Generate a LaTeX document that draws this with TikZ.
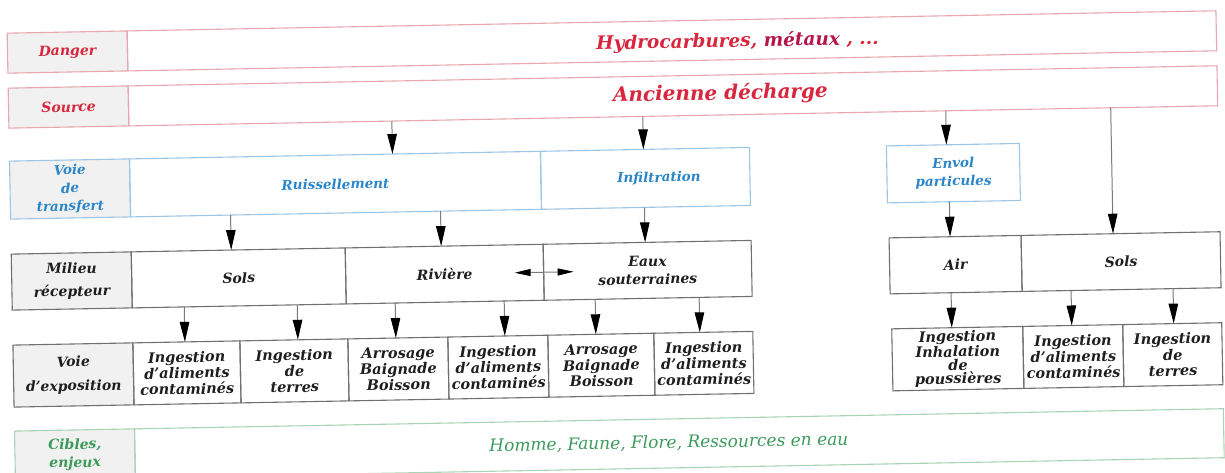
\documentclass[tikz,border=0pt]{standalone}
\usepackage{fontspec}
\setmainfont{DejaVu Serif}
\usetikzlibrary{arrows.meta}
\definecolor{rtxt}{HTML}{D7263D}
\definecolor{rdark}{HTML}{B3164A}
\definecolor{rline}{HTML}{E7A6B1}
\definecolor{btxt}{HTML}{2B86C9}
\definecolor{bline}{HTML}{9DC6E6}
\definecolor{gtxt}{HTML}{3C9A5B}
\definecolor{gline}{HTML}{A9D3B5}
\definecolor{ktxt}{HTML}{1E1E1E}
\definecolor{kline}{HTML}{707070}
\definecolor{labfill}{HTML}{F1F1F1}
\definecolor{shaft}{HTML}{7A7A7A}
\newcommand\fsz[2]{\fontsize{#1}{#2}\selectfont\itshape\bfseries}
\newcommand\cellnode[7]{%
  \pgfmathsetmacro\mycw{#5-#3}%
  \pgfmathsetmacro\mych{#6-#4}%
  \pgfmathsetmacro\mycx{(#3+#5)/2}%
  \pgfmathsetmacro\mycy{(#4+#6)/2}%
  \node[#1,minimum width=\mycw pt,minimum height=\mych pt] (#2) at (\mycx,\mycy) {#7};}
\begin{document}
\begin{tikzpicture}[x=1pt,y=-1pt,
  base/.style={inner sep=0pt,outer sep=0pt,align=center,line width=1.1pt},
  redc/.style={base,draw=rline,text=rtxt},
  bluec/.style={base,draw=bline,text=btxt},
  blkc/.style={base,draw=kline,text=ktxt},
  grnc/.style={base,draw=gline,text=gtxt},
  labc/.style={fill=labfill},
  txt/.style={inner sep=0pt,outer sep=0pt,align=center},
  arr/.style={draw=shaft,line width=1pt,-{Triangle[width=9.5pt,length=20pt,color=black]}},
  dbl/.style={draw=shaft,line width=1pt,{Triangle[width=7pt,length=16pt,color=black]}-{Triangle[width=7pt,length=16pt,color=black]}},
  xcell/.style={blkc,font=\fsz{14.5}{16}}
]
\fill[white] (0,0) rectangle (1225,473);
\useasboundingbox (0,0) rectangle (1225,473);
\begin{scope}[rotate around={1.06:(612,236)}, transform shape]
% Danger
\cellnode{redc,labc,font=\fsz{14}{16}}{dangerL}{11}{22}{131}{62}{Danger}
\cellnode{redc}{dangerM}{131}{22}{1220}{62}{}
\node[txt,text=rtxt,font=\fsz{18.5}{20}] (dangerT) at (741,44) {Hydrocarbures, {\color{rdark}métaux} , ...};
% Source
\cellnode{redc,labc,font=\fsz{14}{16}}{srcL}{11}{77}{131}{117}{Source}
\cellnode{redc}{srcM}{131}{77}{1220}{117}{}
\node[txt,text=rtxt,font=\fsz{20}{22}] (srcT) at (723,96) {Ancienne décharge};
% Transfert
\cellnode{bluec,labc,font=\fsz{13.5}{18}}{tL}{11}{150}{131}{208}{Voie\\de\\transfert}
\cellnode{bluec,font=\fsz{13.5}{15}}{ruis}{131}{150}{542}{208}{Ruissellement}
\cellnode{bluec}{infl}{542}{150}{751}{208}{}
\node[txt,text=btxt,font=\fsz{13.5}{15}] (inflT) at (660,179) {Infiltration};
\cellnode{bluec,font=\fsz{13.5}{18}}{envol}{888}{151}{1021}{208}{Envol\\particules}
% Milieu recepteur
\cellnode{blkc,labc,font=\fsz{14}{23}}{mL}{11}{243}{131}{299}{Milieu\\récepteur}
\cellnode{blkc,font=\fsz{14}{16}}{sols}{131}{243}{345}{299}{Sols}
\cellnode{blkc,font=\fsz{14}{16}}{riv}{345}{243}{543}{299}{Rivière}
\cellnode{blkc,font=\fsz{14}{18}}{eaux}{543}{243}{751}{299}{Eaux\\souterraines}
\cellnode{blkc,font=\fsz{14}{16}}{air}{889}{243}{1021}{299}{Air}
\cellnode{blkc,font=\fsz{14}{16}}{sols2}{1021}{243}{1220}{299}{Sols}
% Voie d'exposition
\cellnode{blkc,labc,font=\fsz{14}{24}}{xL}{11}{334}{131}{396}{Voie\\d'exposition}
\cellnode{xcell}{x1}{131}{334}{238}{396}{Ingestion\\d'aliments\\contaminés}
\cellnode{xcell}{x2}{238}{334}{346}{396}{Ingestion\\de\\terres}
\cellnode{xcell}{x3}{346}{334}{446}{396}{Arrosage\\Baignade\\Boisson}
\cellnode{xcell}{x4}{446}{334}{546}{396}{Ingestion\\d'aliments\\contaminés}
\cellnode{xcell}{x5}{546}{334}{652}{396}{Arrosage\\Baignade\\Boisson}
\cellnode{xcell}{x6}{652}{334}{751}{396}{Ingestion\\d'aliments\\contaminés}
\cellnode{xcell,font=\fsz{14.5}{13.5}}{xr1}{890}{334}{1021}{396}{Ingestion\\Inhalation\\de\\poussières}
\cellnode{xcell}{xr2}{1021}{334}{1121}{396}{Ingestion\\d'aliments\\contaminés}
\cellnode{xcell}{xr3}{1121}{334}{1220}{396}{Ingestion\\de\\terres}
% Cibles
\cellnode{grnc,labc,font=\fsz{14}{18}}{cL}{11}{420}{131}{469}{Cibles,\\enjeux}
\cellnode{grnc}{cM}{131}{420}{1220}{469}{}
\node[txt,text=gtxt,font=\fontsize{17}{19}\selectfont\itshape] (cT) at (665,444) {Homme, Faune, Flore, Ressources en eau};
% arrows
\draw[arr] (srcM.south -| 394,0) -- (ruis.north -| 394,0);
\draw[arr] (srcM.south -| 645,0) -- (infl.north -| 645,0);
\draw[arr] (srcM.south -| 948,0) -- (envol.north -| 948,0);
\draw[arr] (srcM.south -| 1113,0) -- (sols2.north -| 1113,0);
\draw[arr] (ruis.south -| 231,0) -- (sols.north -| 231,0);
\draw[arr] (ruis.south -| 441,0) -- (riv.north -| 441,0);
\draw[arr] (infl.south -| 645,0) -- (eaux.north -| 645,0);
\draw[arr] (envol.south -| 950,0) -- (air.north -| 950,0);
\draw[arr] (sols.south -| 183,0) -- (x1.north -| 183,0);
\draw[arr] (sols.south -| 296,0) -- (x2.north -| 296,0);
\draw[arr] (riv.south -| 394,0) -- (x3.north -| 394,0);
\draw[arr] (riv.south -| 503,0) -- (x4.north -| 503,0);
\draw[arr] (eaux.south -| 594,0) -- (x5.north -| 594,0);
\draw[arr] (eaux.south -| 698,0) -- (x6.north -| 698,0);
\draw[arr] (air.south -| 950,0) -- (xr1.north -| 950,0);
\draw[arr] (sols2.south -| 1070,0) -- (xr2.north -| 1070,0);
\draw[arr] (sols2.south -| 1172,0) -- (xr3.north -| 1172,0);
\draw[dbl] (riv.east -| 514,0) -- (eaux.west -| 573,0);
\end{scope}
\end{tikzpicture}
\end{document}
